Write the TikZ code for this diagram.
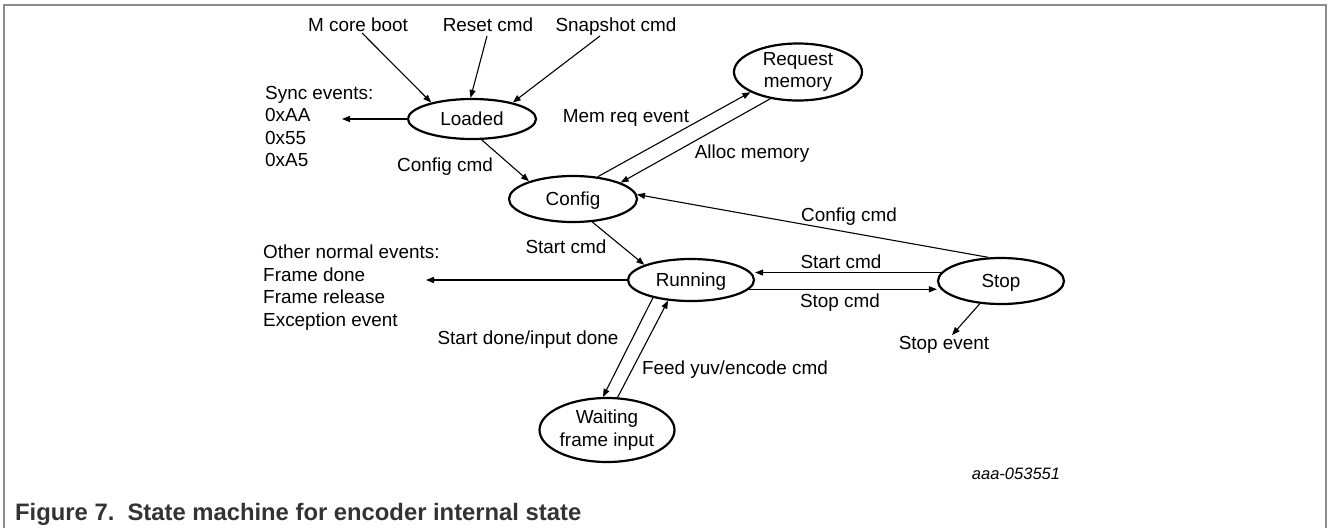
\documentclass[tikz,border=0pt]{standalone}
\usepackage{fontspec}
\setmainfont{Liberation Sans}
\usetikzlibrary{arrows.meta,shapes.geometric,calc}
\definecolor{framegray}{HTML}{8C8C8C}
\definecolor{capgray}{HTML}{333333}
\begin{document}
\begin{tikzpicture}[x=1pt,y=-1pt,
  every node/.style={font=\fontsize{18.9}{22.5}\selectfont},
  state/.style={ellipse,draw,line width=2.2pt,inner sep=0pt,align=center},
  state1/.style={state,text height=13.5pt,text depth=0pt},
  lbl/.style={inner sep=1pt,text height=13.5pt,text depth=0pt},
  arr/.style={line width=1.1pt,-{Triangle[length=8pt,width=6pt]}}]
\useasboundingbox (0,0) rectangle (1328,528);
\draw[line width=1.3pt,color=framegray] (4,528) -- (4,5) -- (1326,5) -- (1326,528);

% states
\node[state1,minimum width=128pt,minimum height=40pt] (loaded) at (472,119) {Loaded};
\node[state1,minimum width=128pt,minimum height=46pt] (config) at (573,199) {Config};
\node[state,minimum width=128pt,minimum height=57pt] (reqmem) at (798,72) {Request\\memory};
\node[state1,minimum width=126pt,minimum height=42pt] (running) at (691,280) {Running};
\node[state1,minimum width=126pt,minimum height=46pt] (stop) at (1001,281) {Stop};
\node[state,minimum width=135pt,minimum height=64pt] (waiting) at (607,430) {Waiting\\frame input};

% labels
\node[lbl] (mcb) at (358,25) {M core boot};
\node[lbl] (reset) at (488,25) {Reset cmd};
\node[lbl] (snap) at (616,25) {Snapshot cmd};
\node[inner sep=0pt,align=left,anchor=north west] (sync) at (265,86) {Sync events:\\0xAA\\0x55\\0xA5};
\coordinate (syncend) at (342,119);
\node[inner sep=0pt,align=left,anchor=north west] (other) at (263,245) {Other normal events:\\Frame done\\Frame release\\Exception event};
\coordinate (otherend) at (426,280);
\node[lbl] (lcfg) at (445,165) {Config cmd};
\node[lbl] (lmem) at (626,116) {Mem req event};
\node[lbl] (lalloc) at (752,152) {Alloc memory};
\node[lbl] (lcfg2) at (849,215) {Config cmd};
\node[lbl] (lstart) at (566,247) {Start cmd};
\node[lbl] (lstart2) at (841,262) {Start cmd};
\node[lbl] (lstop) at (840,301) {Stop cmd};
\node[lbl] (ldone) at (528,338) {Start done/input done};
\node[lbl] (lfeed) at (735,368) {Feed yuv/encode cmd};
\node[lbl] (stopev) at (944,343) {Stop event};
\node[lbl,font=\fontsize{16.5}{20}\selectfont\itshape] (id) at (1016,473) {aaa-053551};
\node[anchor=west,inner sep=0pt,text height=17pt,text depth=0pt,
      font=\fontsize{23.8}{28}\selectfont\bfseries,text=capgray] (cap) at (15,512)
      {Figure 7.~~State machine for encoder internal state};

% connectors
\draw[arr] ([xshift=4pt]mcb.south) -- (loaded.158);
\draw[arr] ([xshift=-1pt,yshift=-3pt]reset.south) -- (loaded.94);
\draw[arr] ([xshift=-16pt,yshift=-3pt]snap.south) -- (loaded.22);
\draw[arr] (loaded.west) -- (syncend);
\draw[arr] (loaded.295) -- (config.158);
\draw[arr] (config.42) -- (reqmem.203);
\draw[arr] (reqmem.224) -- (config.19);
\draw[arr] (stop.118) -- (config.4);
\draw[arr] (config.310) -- (running.162);
\draw[arr] (running.west) -- (otherend);
\draw[arr] (stop.172) -- (running.east |- stop.172);
\draw[arr] (running.351) -- (stop.west |- running.351);
\draw[arr] (running.205) -- (waiting.97);
\draw[arr] (waiting.72) -- (running.222);
\draw[arr] (stop.227) -- ([xshift=8pt]stopev.north);
\end{tikzpicture}
\end{document}
